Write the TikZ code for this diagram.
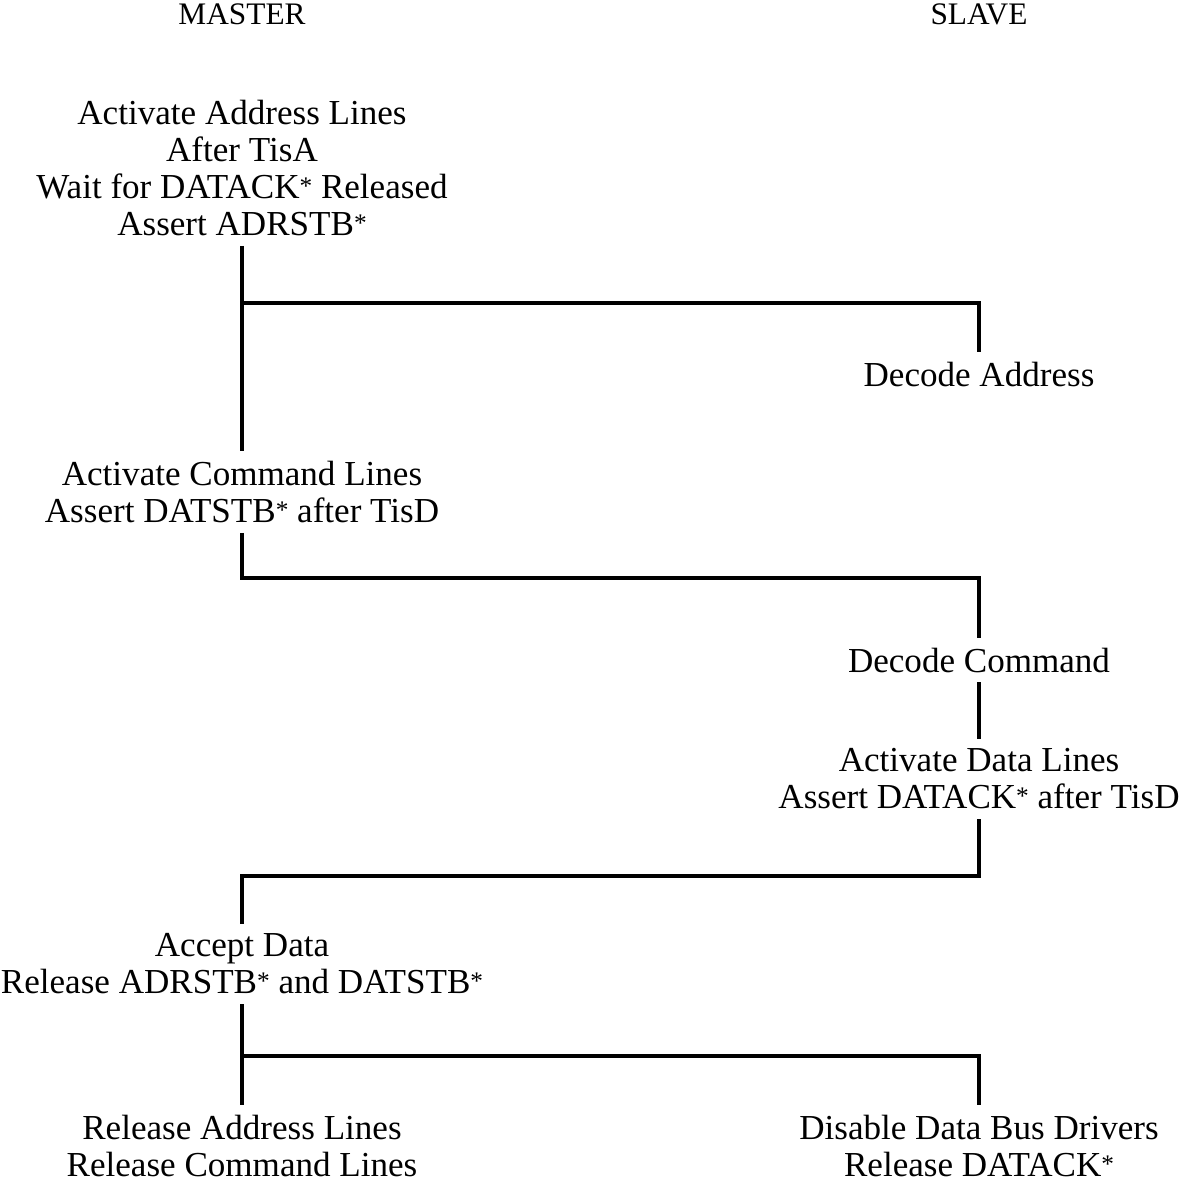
\documentclass[tikz,border=0pt]{standalone}
\usepackage{fontspec}
\setmainfont{Liberation Serif}
\newcommand\strk{\raisebox{0.12em}{\fontsize{19}{19}\selectfont *}}
\begin{document}
\begin{tikzpicture}[x=0.75pt,y=-0.75pt,
  txt/.style={align=center,inner sep=0pt,outer sep=0pt,font=\fontsize{26.3}{27.75}\selectfont},
  head/.style={inner sep=0pt,font=\fontsize{23.5}{26}\selectfont},
  wire/.style={line width=2.6pt,shorten <=7.5pt,shorten >=7.5pt}]
\useasboundingbox (0,0) rectangle (1184,1183);
\node[head] (master) at (242,14) {MASTER};
\node[head] (slave) at (979,14) {SLAVE};
\node[txt] (b1) at (242,168) {Activate Address Lines\\After TisA\\Wait for DATACK\strk{} Released\\Assert ADRSTB\strk};
\node[txt] (decA) at (979,374) {Decode Address};
\node[txt] (b2) at (242,492) {Activate Command Lines\\Assert DATSTB\strk{} after TisD};
\node[txt] (decC) at (979,660) {Decode Command};
\node[txt] (actD) at (979,779) {Activate Data Lines\\Assert DATACK\strk{} after TisD};
\node[txt] (acc) at (242,964) {Accept Data\\Release ADRSTB\strk{} and DATSTB\strk};
\node[txt] (relA) at (242,1146) {Release Address Lines\\Release Command Lines};
\node[txt] (dis) at (979,1146) {Disable Data Bus Drivers\\Release DATACK\strk};
\coordinate (j1) at (0,303);
\coordinate (j2) at (0,578);
\coordinate (j3) at (0,876);
\coordinate (j4) at (0,1056);
\draw[wire] (b1.south) -- (b2.north);
\draw[wire,shorten <=0pt] (b1.south |- j1) -| (decA.north);
\draw[wire] (b2.south) |- (decC.north |- j2) -- (decC.north);
\draw[wire] (decC.south) -- (actD.north);
\draw[wire] (actD.south) |- (acc.north |- j3) -- (acc.north);
\draw[wire] (acc.south) -- (relA.north);
\draw[wire,shorten <=0pt] (acc.south |- j4) -| (dis.north);
\end{tikzpicture}
\end{document}
